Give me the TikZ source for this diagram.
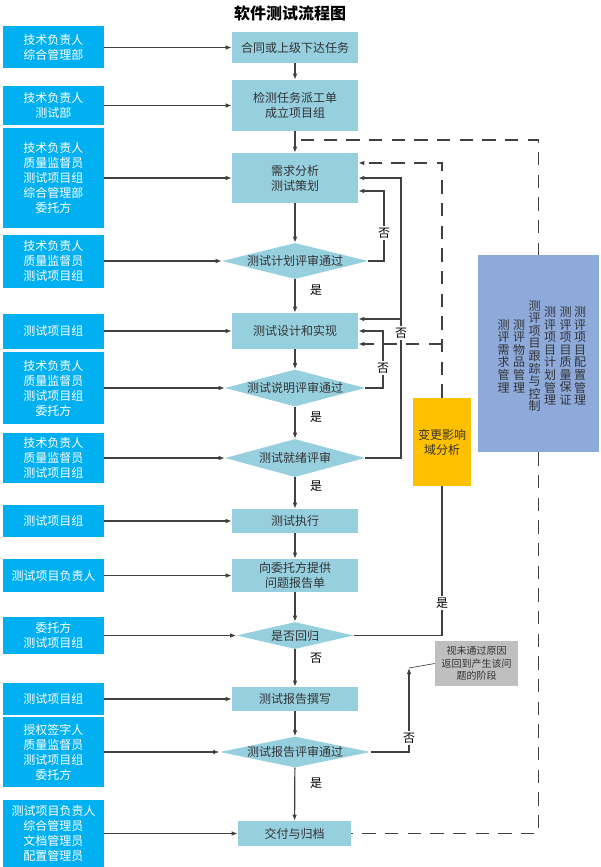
\documentclass[tikz,border=0pt]{standalone}
\usepackage{fontspec}
\setmainfont{Noto Sans CJK SC}
\usetikzlibrary{shapes.geometric,arrows.meta}
\definecolor{roleblue}{RGB}{0,176,240}
\definecolor{flowblue}{RGB}{150,207,222}
\definecolor{chgorange}{RGB}{255,192,0}
\definecolor{mgmtblue}{RGB}{142,170,219}
\definecolor{notegray}{RGB}{191,191,191}
\definecolor{linegray}{RGB}{64,64,64}
\definecolor{txtdark}{RGB}{51,51,51}
\begin{document}
\begin{tikzpicture}[x=0.75pt,y=-0.75pt,
  ht/.style={minimum height=#1*0.75pt},
  wd/.style={minimum width=#1*0.75pt},
  base/.style={inner sep=0pt,align=center,font=\fontsize{9pt}{11.25pt}\selectfont},
  role/.style={base,fill=roleblue,text=white,wd=101},
  flow/.style={base,fill=flowblue,text=txtdark,wd=126},
  dia/.style={base,diamond,fill=flowblue,text=txtdark},
  lbl/.style={inner sep=1pt,fill=white,text=black,font=\fontsize{9pt}{10pt}\selectfont},
  ln/.style={draw=linegray,line width=0.9pt},
  arr/.style={ln,-{Latex[length=4.5pt,width=3.5pt]}},
  dsh/.style={ln,dash pattern=on 10pt off 7pt},
  vcol/.style={inner sep=0pt,align=center,text width=9pt,text=txtdark,font=\fontsize{9pt}{9.4pt}\selectfont}
]
\useasboundingbox (0,0) rectangle (600,867);

\node[font=\bfseries\fontsize{12pt}{14pt}\selectfont] (title) at (290,13) {软件测试流程图};

% flow nodes
\node[flow,ht=31] (A) at (295,47.5) {合同或上级下达任务};
\node[flow,ht=51] (B) at (295,105.5) {检测任务派工单\\成立项目组};
\node[flow,ht=50] (C) at (295,178) {需求分析\\测试策划};
\node[dia,wd=146,ht=36,shape aspect=4.06] (D1) at (295,261) {测试计划评审通过};
\node[flow,ht=36] (E) at (295,331) {测试设计和实现};
\node[dia,wd=140,ht=37,shape aspect=3.78] (D2) at (295,388) {测试说明评审通过};
\node[dia,wd=140,ht=38,shape aspect=3.68] (D3) at (295,458) {测试就绪评审};
\node[flow,ht=24] (F) at (295,521) {测试执行};
\node[flow,ht=33] (G) at (295,575.5) {向委托方提供\\问题报告单};
\node[dia,wd=117,ht=27,shape aspect=4.33] (D4) at (295,635.5) {是否回归};
\node[flow,ht=24] (H) at (295,699) {测试报告撰写};
\node[dia,wd=146,ht=30,shape aspect=4.87] (D5) at (295,752) {测试报告评审通过};
\node[flow,wd=113,ht=25] (I) at (294.5,833.5) {交付与归档};

% role nodes
\node[role,ht=42] (L1) at (53.5,47.5) {技术负责人\\综合管理部};
\node[role,ht=39] (L2) at (53.5,105.5) {技术负责人\\测试部};
\node[role,ht=100] (L3) at (53.5,178) {技术负责人\\质量监督员\\测试项目组\\综合管理部\\委托方};
\node[role,ht=53] (L4) at (53.5,261) {技术负责人\\质量监督员\\测试项目组};
\node[role,ht=35] (L5) at (53.5,331) {测试项目组};
\node[role,ht=72] (L6) at (53.5,388) {技术负责人\\质量监督员\\测试项目组\\委托方};
\node[role,ht=50] (L7) at (53.5,458) {技术负责人\\质量监督员\\测试项目组};
\node[role,ht=32] (L8) at (53.5,521) {测试项目组};
\node[role,ht=33] (L9) at (53.5,575.5) {测试项目负责人};
\node[role,ht=37] (L10) at (53.5,635.5) {委托方\\测试项目组};
\node[role,ht=32] (L11) at (53.5,699) {测试项目组};
\node[role,ht=70] (L12) at (53.5,752) {授权签字人\\质量监督员\\测试项目组\\委托方};
\node[role,ht=68] (L13) at (53.5,833.5) {测试项目负责人\\综合管理员\\文档管理员\\配置管理员};

% side boxes
\node[base,fill=chgorange,text=txtdark,wd=58,ht=88] (O) at (442,442) {变更影响\\域分析};
\node[base,fill=mgmtblue,wd=121,ht=197] (P) at (538.5,353.5) {};
\node[base,fill=notegray,text=txtdark,wd=83,ht=45,font=\fontsize{7.5pt}{9.4pt}\selectfont] (N) at (476.5,663.5) {视未通过原因\\返回到产生该问\\题的阶段};

\node[vcol] (V1) at (580,356) {测\\评\\项\\目\\配\\置\\管\\理};
\node[vcol] (V2) at (565.5,356) {测\\评\\项\\目\\质\\量\\保\\证};
\node[vcol] (V3) at (550,356) {测\\评\\项\\目\\计\\划\\管\\理};
\node[vcol] (V4) at (534.5,356) {测\\评\\项\\目\\跟\\踪\\与\\控\\制};
\node[vcol] (V5) at (519,356) {测\\评\\物\\品\\管\\理};
\node[vcol] (V6) at (503.5,356) {测\\评\\需\\求\\管\\理};

% role -> flow
\foreach \l/\f in {L1/A,L2/B,L3/C,L4/D1,L5/E,L6/D2,L7/D3,L8/F,L9/G,L10/D4,L11/H,L12/D5,L13/I}
  \draw[arr] (\l.east) -- (\f.west);

% main flow
\draw[arr] (A) -- (B);
\draw[arr] (B) -- (C);
\draw[arr] (C) -- (D1);
\draw[arr] (D1) -- (E);
\draw[arr] (E) -- (D2);
\draw[arr] (D2) -- (D3);
\draw[arr] (D3) -- (F);
\draw[arr] (F) -- (G);
\draw[arr] (G) -- (D4);
\draw[arr] (D4) -- (H);
\draw[arr] (H) -- (D5);
\draw[arr] (D5) -- (I);

% feedback loops
\coordinate (n1) at (384,191);
\draw[arr] (D1.east) -| (n1) -- (n1 -| C.east);
\coordinate (n2) at (383,331);
\draw[arr] (D2.east) -| (n2) -- (n2 -| E.east);
\coordinate (n3a) at (401,178);
\coordinate (n3b) at (401,319);
\draw[arr] (D3.east) -| (n3a) -- (n3a -| C.east);
\draw[arr] (n3b) -- (n3b -| E.east);
\coordinate (c1) at (442,163);
\coordinate (c2) at (442,344);
\draw[dsh,-{Latex[length=4.5pt,width=3.5pt]}] (O.north) -- (c1) -- (c1 -| C.east);
\draw[dsh,-{Latex[length=4.5pt,width=3.5pt]}] (c2) -- (c2 -| E.east);
\draw[ln] (D4.east) -| (O.south);
\coordinate (n5) at (409,668);
\draw[arr] (D5.east) -| (n5);
\draw[draw=linegray,line width=0.5pt] (N.west) -- (n5);

% management loop
\coordinate (d0) at (301,140);
\draw[dsh] (d0) -| (P.north);
\draw[dsh] (P.south) |- (I.east);

% labels
\node[lbl] (no1) at (384,233) {否};
\node[lbl] (no2) at (383,368) {否};
\node[lbl] (no3) at (401,333) {否};
\node[lbl] (no5) at (409,738) {否};
\node[lbl] (yes4) at (442,603) {是};
\node[lbl] (yes1) at (316,290) {是};
\node[lbl] (yes2) at (316,417) {是};
\node[lbl] (yes3) at (316,486) {是};
\node[lbl] (no4) at (316,658) {否};
\node[lbl] (yes5) at (316,783) {是};
\end{tikzpicture}
\end{document}
